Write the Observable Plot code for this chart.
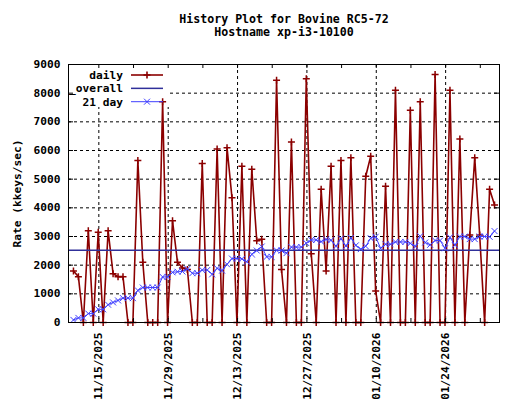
<!DOCTYPE html>
<html><head><meta charset="utf-8">
<script src="https://cdn.jsdelivr.net/npm/d3@7"></script>
<script src="https://cdn.jsdelivr.net/npm/@observablehq/plot@0.6"></script>
<style>html,body{margin:0;padding:0;background:#fff;}</style>
</head><body><div id="chart"></div>
<script>
const titleLines = ["History Plot for Bovine RC5-72", "Hostname xp-i3-10100"];
const yLabel = "Rate (kkeys/sec)";
const seriesNames = ["daily", "_overall", "21 day"];
const firstDay = "2025-11-09T21:00Z";
const xDomain = ["2025-11-08T21:00Z", "2026-02-03T21:00Z"];
const majorTicks = ["2025-11-15","2025-11-29","2025-12-13","2025-12-27","2026-01-10","2026-01-24"];
const minorTicks = ["2025-11-22","2025-12-06","2025-12-20","2026-01-03","2026-01-17","2026-01-31"];
const yTicks = [0,1000,2000,3000,4000,5000,6000,7000,8000,9000];
const daily = [1800,1600,0,3200,0,3150,0,3200,1700,1600,1600,0,0,5650,2100,0,0,0,7700,0,
  3550,2100,1900,1850,0,0,5550,0,0,6050,0,6100,4350,0,5450,0,5350,2850,2900,0,
  0,8450,1850,0,6300,0,0,8500,2400,0,4650,1800,5450,0,5650,0,5750,0,0,5100,
  5800,1100,0,4750,0,8100,0,0,7400,0,7700,0,0,8650,0,0,8100,0,6400,0,
  3050,5750,3050,0,4650,4100];
const avg21 = [90,160,160,310,310,460,460,620,700,770,850,850,850,1120,1220,1220,1220,1220,1590,1590,
  1750,1770,1780,1870,1720,1720,1830,1830,1680,1890,1810,2030,2230,2230,2220,2120,2380,2510,2650,2290,
  2290,2520,2510,2420,2630,2630,2630,2770,2880,2880,2820,2900,2870,2660,2930,2670,2950,2690,2560,2660,
  2940,2990,2590,2730,2730,2810,2810,2810,2760,2650,3010,2790,2710,2860,2860,2590,2970,2700,3000,3000,
  2910,2910,3000,3000,2990,3190];
const overall = 2520;

const C = {daily: "#8b0000", overall: "#30309a", avg: "#3f3fff"};
const font = "'DejaVu Sans Mono', 'Liberation Mono', monospace";
const toDate = s => new Date(s.length === 10 ? s + "T00:00Z" : s);
const start = toDate(firstDay);
const rows = daily.map((v, i) => ({date: d3.utcDay.offset(start, i), daily: v, avg: avg21[i]}));
const major = majorTicks.map(toDate);
const allTicks = major.concat(minorTicks.map(toDate));

const plusSym = {draw(ctx, size) {const r = Math.sqrt(size / Math.PI); ctx.moveTo(-r, 0); ctx.lineTo(r, 0); ctx.moveTo(0, -r); ctx.lineTo(0, r);}};
const timesSym = {draw(ctx, size) {const r = Math.sqrt(size / Math.PI); ctx.moveTo(-r, -r); ctx.lineTo(r, r); ctx.moveTo(-r, r); ctx.lineTo(r, -r);}};

const W = 520, H = 400, mL = 68, mR = 21, mT = 64, mB = 78;
const pw = W - mL - mR, ph = H - mT - mB;

const legendBox = (index, scales, values, dims) => {
  const g = d3.create("svg:g");
  g.append("rect").attr("x", dims.marginLeft + 1).attr("y", dims.marginTop + 1)
    .attr("width", 100).attr("height", 42).attr("fill", "white");
  return g.node();
};
const legendItems = (index, scales, values, dims) => {
  const g = d3.create("svg:g").attr("font-family", font).attr("font-size", 11.2).attr("font-weight", "bold");
  const x0 = dims.marginLeft, y0 = dims.marginTop;
  const items = [
    {name: seriesNames[0], color: C.daily, w: 1.6, sym: plusSym, r: 3.5},
    {name: seriesNames[1], color: C.overall, w: 1.5, sym: null},
    {name: seriesNames[2], color: C.avg, w: 1, sym: timesSym, r: 3}
  ];
  items.forEach((it, k) => {
    const y = y0 + 11 + k * 13.35;
    g.append("text").attr("x", x0 + 55).attr("y", y).attr("dy", "0.35em").attr("text-anchor", "end").attr("fill", "black").text(it.name);
    g.append("line").attr("x1", x0 + 63).attr("x2", x0 + 95).attr("y1", y).attr("y2", y)
      .attr("stroke", it.color).attr("stroke-width", it.w);
    if (it.sym) {
      const p = d3.path(); it.sym.draw(p, Math.PI * it.r * it.r);
      g.append("path").attr("d", p.toString()).attr("transform", `translate(${x0 + 79},${y})`)
        .attr("stroke", it.color).attr("stroke-width", it.w).attr("fill", "none");
    }
  });
  return g.node();
};

const chart = Plot.plot({
  width: W, height: H,
  marginLeft: mL, marginRight: mR, marginTop: mT, marginBottom: mB,
  style: {fontFamily: font, fontSize: "11.2px", fontWeight: "bold", background: "white", color: "black"},
  x: {type: "utc", domain: xDomain.map(toDate)},
  y: {domain: [0, 9000]},
  marks: [
    Plot.gridY(yTicks, {stroke: "black", strokeOpacity: 1, strokeDasharray: "3,3", strokeWidth: 1}),
    Plot.gridX(major, {stroke: "black", strokeOpacity: 1, strokeDasharray: "3,3", strokeWidth: 1}),
    legendBox,
    Plot.line(rows, {x: "date", y: "daily", stroke: C.daily, strokeWidth: 1.6}),
    Plot.dot(rows, {x: "date", y: "daily", symbol: plusSym, r: 3.5, stroke: C.daily, strokeWidth: 1.5, fill: "none"}),
    Plot.ruleY([overall], {stroke: C.overall, strokeWidth: 1.5}),
    Plot.line(rows, {x: "date", y: "avg", stroke: C.avg, strokeWidth: 1}),
    Plot.dot(rows, {x: "date", y: "avg", symbol: timesSym, r: 3, stroke: C.avg, strokeWidth: 1, fill: "none"}),
    Plot.frame({stroke: "black", strokeWidth: 1}),
    Plot.tickX(allTicks, {x: d => d, insetTop: ph - 4, stroke: "black"}),
    Plot.tickX(allTicks, {x: d => d, insetBottom: ph - 4, stroke: "black"}),
    Plot.tickY(yTicks, {y: d => d, insetRight: pw - 5, stroke: "black"}),
    Plot.tickY(yTicks, {y: d => d, insetLeft: pw - 5, stroke: "black"}),
    Plot.axisY(yTicks, {tickSize: 0, tickPadding: 8, tickFormat: d => String(d), label: null}),
    Plot.axisX(major, {tickSize: 0, tickPadding: 10, tickRotate: -90, tickFormat: d3.utcFormat("%m/%d/%Y"), label: null}),
    legendItems,
    Plot.text([yLabel], {text: d => d, frameAnchor: "left", dx: -51, rotate: -90, textAnchor: "middle", lineAnchor: "middle", fontSize: 11.2, fontWeight: "bold"}),
    Plot.text([titleLines[0]], {text: d => d, frameAnchor: "top", dy: -45.5, lineAnchor: "middle", fontSize: 11.6, fontWeight: "bold"}),
    Plot.text([titleLines[1]], {text: d => d, frameAnchor: "top", dy: -32.5, lineAnchor: "middle", fontSize: 11.6, fontWeight: "bold"})
  ]
});
document.getElementById("chart").append(chart);
</script></body></html>
